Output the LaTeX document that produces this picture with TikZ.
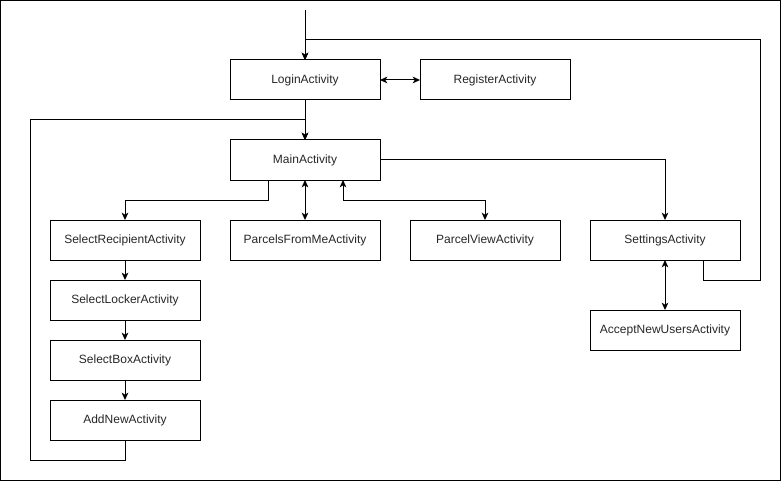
\documentclass[tikz,border=0pt]{standalone}
\usepackage{fontspec}
\setmainfont{Liberation Sans}
\usepackage{xcolor}
\usepackage{tikz}
\usetikzlibrary{arrows.meta,positioning,calc}

\begin{document}
\begin{tikzpicture}[line width=0.75pt, >={Stealth[length=5.5pt,width=5pt,inset=1.5pt]}]
        \tikzstyle{activity} = [draw, rectangle, minimum width=112.5pt, minimum height=30pt, inner sep=0pt, outer sep=0pt, text=black!85, font=\fontsize{9pt}{11pt}\selectfont]
        \useasboundingbox (0,0) rectangle (585.75pt,-360.75pt);
        \draw (0.375pt,-0.375pt) rectangle (585.375pt,-360.375pt);

        \node[activity] (login) at (228.75pt,-60pt) {LoginActivity};
        \node[activity, right = 30pt of login] (register) {RegisterActivity};
        \node[activity, below = 30pt of login] (main) {MainActivity};
        \node[activity, below = 30pt of main] (parcels) {ParcelsFromMeActivity};
        \node[activity, left = 22.5pt of parcels] (selrecip) {SelectRecipientActivity};
        \node[activity, right = 22.5pt of parcels] (parcelview) {ParcelViewActivity};
        \node[activity, right = 22.5pt of parcelview] (settings) {SettingsActivity};
        \node[activity, below = 37.5pt of settings] (acceptnew) {AcceptNewUsersActivity};
        \node[activity, below = 15pt of selrecip] (sellocker) {SelectLockerActivity};
        \node[activity, below = 15pt of sellocker] (selbox) {SelectBoxActivity};
        \node[activity, below = 15pt of selbox] (addnew) {AddNewActivity};

        \coordinate (start) at (228.75pt,-7.5pt);
        \coordinate (topright) at (570pt,-30pt);
        \coordinate (leftloop) at (22.5pt,-90pt);

        \draw [->] (start) -- (login.north);
        \draw [->] ([xshift=28.5pt]settings.south) -- ++(0,-15pt) -| (topright) -| (login.north);
        \draw [<->] (login) -- (register);
        \draw [->] (login) -- (main);
        \draw [->] (addnew.south) -- ++(0,-15pt) -| (leftloop) -| (main.north);
        \draw [->] ([xshift=-27.75pt]main.south) -- ++(0,-15pt) -| (selrecip.north);
        \draw [<->] (main) -- (parcels);
        \draw [<->] ([xshift=28.5pt]main.south) -- ++(0,-15pt) -| (parcelview.north);
        \draw [->] (main.east) -| (settings.north);
        \draw [<->] (settings) -- (acceptnew);
        \foreach \a/\b in {selrecip/sellocker, sellocker/selbox, selbox/addnew}
            \draw [->] (\a) -- (\b);
\end{tikzpicture}
\end{document}
